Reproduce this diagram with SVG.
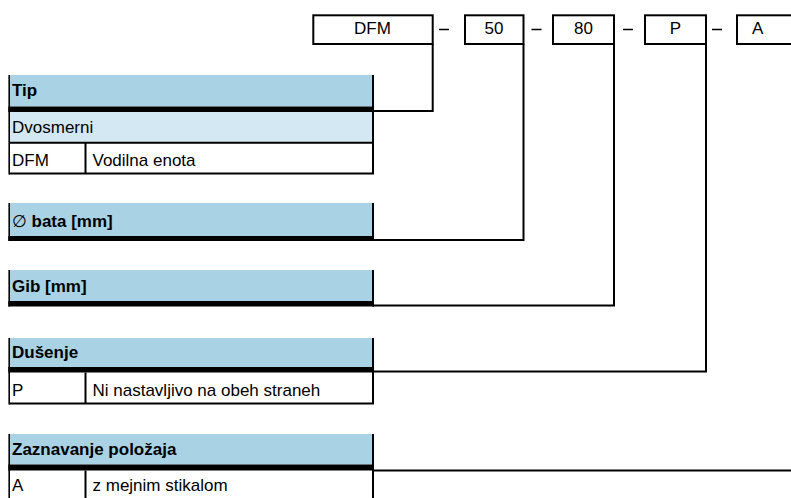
<svg xmlns="http://www.w3.org/2000/svg" width="791" height="498" viewBox="0 0 791 498">
<style>
.hdr{fill:#a9d2e4}
.sub{fill:#d3e8f2}
.band{fill:#000}
.ln{stroke:#000;stroke-width:2;fill:none}
.thin{stroke:#000;stroke-width:1.6;fill:none}
.box{stroke:#000;stroke-width:2;fill:#fff}
.t{font-family:"Liberation Sans",Arial,sans-serif;font-size:17px;fill:#000}
.b{font-weight:bold}
.c{text-anchor:middle}
</style>
<rect width="791" height="498" fill="#fff"/>
<g id="connectors">
<path class="ln" d="M432.7,44 V111 H373"/>
<path class="ln" d="M523.5,44 V240 H373"/>
<path class="ln" d="M614,44 V305.5 H373"/>
<path class="ln" d="M706,44 V371.5 H373"/>
<path class="ln" d="M373,470.5 H791"/>
<path class="thin" d="M439,29.5 H449 M531.5,29.5 H541.5 M623,29.5 H633 M712,29.5 H722"/>
</g>
<g id="code">
<rect class="box" x="313.3" y="15.3" width="119.4" height="28.7"/>
<text class="t c" x="372.5" y="34">DFM</text>
<rect class="box" x="465" y="15.3" width="58.5" height="28.7"/>
<text class="t c" x="494" y="34">50</text>
<rect class="box" x="553" y="15.3" width="61" height="28.7"/>
<text class="t c" x="583.5" y="34">80</text>
<rect class="box" x="645" y="15.3" width="61" height="28.7"/>
<text class="t c" x="675.5" y="34">P</text>
<rect class="box" x="737" y="15.3" width="60" height="28.7"/>
<text class="t c" x="757.7" y="34">A</text>
</g>
<g id="tip">
<rect class="hdr" x="9" y="75" width="364" height="31.5"/>
<rect class="band" x="8.3" y="106.5" width="365.7" height="5.5"/>
<rect class="sub" x="9" y="112" width="364" height="30"/>
<path class="ln" d="M9,142.7 H374 M9,173.5 H374 M85.5,143 V173.5 M373,75 V174.5"/>
<path class="thin" d="M9.2,75 V174.5"/>
<text class="t b" x="12" y="96">Tip</text>
<text class="t" x="12" y="133">Dvosmerni</text>
<text class="t" x="12" y="165.5">DFM</text>
<text class="t" x="92.5" y="165.5">Vodilna enota</text>
</g>
<g id="bata">
<rect class="hdr" x="9" y="203" width="364" height="33"/>
<rect class="band" x="8.3" y="236" width="365.7" height="5"/>
<path class="ln" d="M373,203 V241"/>
<path class="thin" d="M9.2,203 V241"/>
<text class="t" x="12" y="227">∅<tspan class="b" x="31.5">bata [mm]</tspan></text>
</g>
<g id="gib">
<rect class="hdr" x="9" y="270" width="364" height="31"/>
<rect class="band" x="8.3" y="301" width="365.7" height="5.5"/>
<path class="ln" d="M373,270 V306.5"/>
<path class="thin" d="M9.2,270 V306.5"/>
<text class="t b" x="12" y="292">Gib [mm]</text>
</g>
<g id="dusenje">
<rect class="hdr" x="9" y="338" width="364" height="29"/>
<rect class="band" x="8.3" y="367" width="365.7" height="5.5"/>
<path class="ln" d="M9,403.5 H374 M85.5,372.5 V403.5 M373,338 V404.5"/>
<path class="thin" d="M9.2,338 V404.5"/>
<text class="t b" x="12" y="357.5">Dušenje</text>
<text class="t" x="12" y="395.5">P</text>
<text class="t" x="92.5" y="395.5">Ni nastavljivo na obeh straneh</text>
</g>
<g id="zaznavanje">
<rect class="hdr" x="9" y="434" width="364" height="30.5"/>
<rect class="band" x="8.3" y="464.5" width="365.7" height="6"/>
<path class="ln" d="M85.5,470.5 V498 M373,434 V498"/>
<path class="thin" d="M9.2,434 V498"/>
<text class="t b" x="12" y="455">Zaznavanje položaja</text>
<text class="t" x="12" y="491">A</text>
<text class="t" x="92.5" y="491">z mejnim stikalom</text>
</g>
</svg>
